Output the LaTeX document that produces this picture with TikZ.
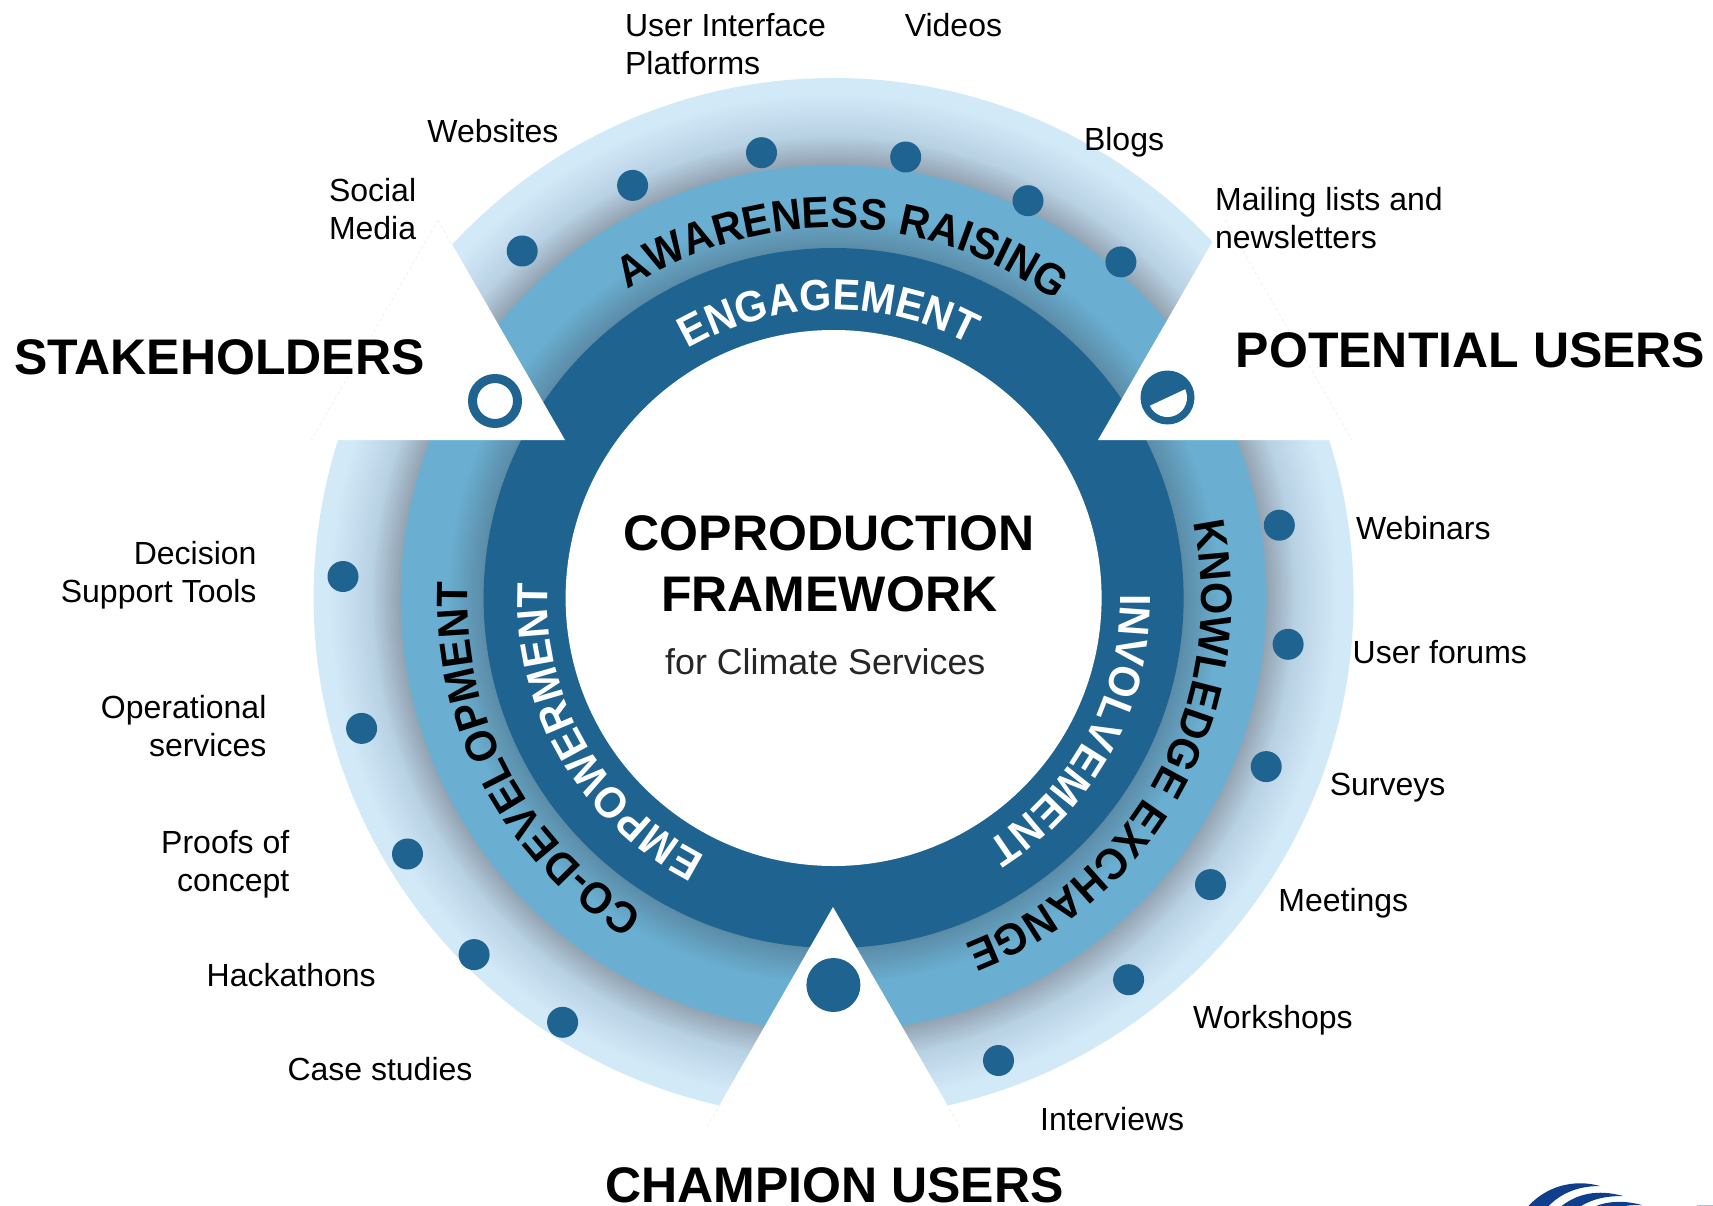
\documentclass[tikz,border=0pt]{standalone}
\usepackage{fontspec}
\setmainfont{Liberation Sans}
\newfontfamily\ringf{Liberation Sans}[FakeStretch=0.945]
\usetikzlibrary{decorations.text}
\definecolor{dk}{HTML}{1F6391}
\definecolor{midA}{HTML}{5C8DA8}
\definecolor{midB}{HTML}{6AAFD1}
\definecolor{outA}{HTML}{94A4B3}
\definecolor{outC}{HTML}{B8D1E3}
\definecolor{outB}{HTML}{D2E9F8}
\definecolor{logoblue}{HTML}{0F3F8C}
\newcommand\ringblack{\ringf\fontsize{44}{50}\selectfont\bfseries\color{black}}
\newcommand\ringwhite{\ringf\fontsize{43.5}{50}\selectfont\bfseries\color{white}}
\newcommand\ringtext[4]{\path[decorate,decoration={text along path,text align=center,text={|#4|#3}}] ({#1+70}:#2) arc ({#1+70}:{#1-70}:#2);}
\tikzset{
 x=1pt,y=1pt,
 lab/.style={inner sep=0pt,font=\fontsize{32}{38}\selectfont,text=black},
 labL/.style={lab,anchor=base west},
 headg/.style={inner sep=0pt,font=\fontsize{50}{56}\selectfont\bfseries,text=black},
 titleg/.style={inner sep=0pt,font=\fontsize{50}{56}\selectfont\bfseries,anchor=base,text=black},
 dot/.style={circle,fill=dk,inner sep=0pt,minimum size=31pt},
 tri/.style={fill=white},
 faint/.style={draw=black!5,line width=1pt,dash pattern=on 3pt off 3pt},
}
\begin{document}
\begin{tikzpicture}
\useasboundingbox (0,0) rectangle (1713,-1206);
\coordinate (C) at (833.6,-598);
\coordinate (T) at (833.6,-600);
% rings: concentric steps give the radial fades
\fill[outB] (C) circle (520);
\foreach \i in {0,...,21}{
  \pgfmathsetmacro\rr{505-2*\i}
  \pgfmathsetmacro\pp{100-100*\i/21}
  \fill[outB!\pp!outC] (C) circle (\rr);
}
\foreach \i in {1,...,14}{
  \pgfmathsetmacro\rr{463-2*\i}
  \pgfmathsetmacro\pp{100-100*\i/14}
  \fill[outC!\pp!outA] (C) circle (\rr);
}
\fill[midB] (C) circle (433);
\foreach \i in {0,...,18}{
  \pgfmathsetmacro\rr{388-2*\i}
  \pgfmathsetmacro\pp{100-100*\i/18}
  \fill[midB!\pp!midA] (C) circle (\rr);
}
\fill[dk] (C) circle (350);
\fill[white] (C) circle (268);
% triangles
\fill[tri] (311.5,-440) -- (565,-440) -- (438,-220) -- cycle;
\fill[tri] (1098,-440) -- (1352,-440) -- (1225,-220) -- cycle;
\fill[tri] (833,-907) -- (707,-1127) -- (960,-1127) -- cycle;
\draw[faint] (438,-220) -- (452,-245);
\draw[faint] (438,-220) -- (311.5,-440);
\draw[faint] (1225,-220) -- (1352,-440);
\draw[faint] (960,-1127) -- (946,-1103);
\draw[faint] (707,-1127) -- (721,-1103);
% icons
\node[circle,draw=dk,line width=9pt,fill=white,inner sep=0pt,minimum size=45pt] (iconA) at (495,-401) {};
\node[circle,fill=dk,inner sep=0pt,minimum size=54pt] (iconB) at (1167.5,-397.5) {};
\fill[white] (iconB.center) ++(25:19.5) arc (25:-155:19.5) -- cycle;
\node[circle,fill=dk,inner sep=0pt,minimum size=54pt] (iconC) at (833.4,-985) {};
% dots
\begin{scope}[yshift=-0.8pt]
\node[dot] (d1) at (522.2,-250.2) {};
\node[dot] (d2) at (632.6,-184.6) {};
\node[dot] (d3) at (761.5,-151.9) {};
\node[dot] (d4) at (905.7,-156.2) {};
\node[dot] (d5) at (1028.0,-199.9) {};
\node[dot] (d6) at (1120.9,-261.1) {};
\node[dot] (d7) at (1279.3,-524.4) {};
\node[dot] (d8) at (1288.1,-643.5) {};
\node[dot] (d9) at (1266.2,-765.8) {};
\node[dot] (d10) at (1210.5,-883.8) {};
\node[dot] (d11) at (1128.6,-978.9) {};
\node[dot] (d12) at (998.5,-1059.7) {};
\node[dot] (d13) at (343.0,-575.7) {};
\node[dot] (d14) at (361.6,-727.6) {};
\node[dot] (d15) at (407.5,-853.2) {};
\node[dot] (d16) at (474.1,-953.8) {};
\node[dot] (d17) at (562.6,-1021.5) {};
\end{scope}
% curved texts
\begin{scope}[shift={(T)}]
\ringtext{88.5}{372}{AWARENESS RAISING}{\ringblack}
\ringtext{91}{290}{ENGAGEMENT}{\ringwhite}
\ringtext{-28.5}{368}{KNOWLEDGE EXCHANGE}{\ringblack}
\ringtext{-28.5}{287}{INVOLVEMENT}{\ringwhite}
\ringtext{208}{366}{CO-DEVELOPMENT}{\ringblack}
\ringtext{210}{286}{EMPOWERMENT}{\ringwhite}
\end{scope}
% labels
\node[lab,anchor=west,align=left] (l1) at (624.9,-44.2) {User Interface\\Platforms};
\node[labL] (l2) at (904.6,-36.6) {Videos};
\node[labL] (l3) at (427.2,-142.6) {Websites};
\node[labL] (l4) at (1083.8,-150.3) {Blogs};
\node[lab,anchor=west,align=left] (l5) at (328.8,-208.9) {Social\\Media};
\node[lab,anchor=west,align=left] (l6) at (1214.9,-218) {Mailing lists and\\newsletters};
\node[labL] (l7) at (1355.8,-539.7) {Webinars};
\node[labL] (l8) at (1352.5,-663.1) {User forums};
\node[labL] (l9) at (1329.6,-795.3) {Surveys};
\node[labL] (l10) at (1278.2,-911.1) {Meetings};
\node[labL] (l11) at (1193,-1028.1) {Workshops};
\node[labL] (l12) at (1040,-1130.7) {Interviews};
\node[lab,anchor=east,align=right] (l13) at (256.7,-575.2) {Decision\\Support Tools};
\node[lab,anchor=east,align=right] (l14) at (266.6,-726.4) {Operational\\services};
\node[lab,anchor=east,align=right] (l15) at (289.5,-864.6) {Proofs of\\concept};
\node[labL] (l16) at (206.5,-986.5) {Hackathons};
\node[labL] (l17) at (287.3,-1080.5) {Case studies};
% headings
\node[headg,anchor=base west] (h1) at (14.2,-374.8) {STAKEHOLDERS};
\node[headg,anchor=base west] (h2) at (1235.6,-367.2) {POTENTIAL USERS};
\node[headg,anchor=base] (h3) at (834.6,-1202.5) {CHAMPION USERS};
% title
\node[titleg] (t1) at (829.2,-550.6) {COPRODUCTION};
\node[titleg] (t2) at (829.2,-611.8) {FRAMEWORK};
\node[inner sep=0pt,anchor=base,font=\fontsize{35.8}{40}\selectfont,text=black!85] (t3) at (825.3,-674) {for Climate Services};
% logo fragment
\begin{scope}
\clip (0,0) rectangle (1713,-1206);
\fill[logoblue] (1600,-1186) .. controls (1575,-1179) and (1545,-1185) .. (1525,-1210) -- (1545,-1210) .. controls (1560,-1192) and (1580,-1186) .. (1600,-1186) -- cycle;
\fill[logoblue] (1623,-1196) .. controls (1598,-1189) and (1575,-1193) .. (1557,-1210) -- (1575,-1210) .. controls (1590,-1199) and (1605,-1196) .. (1623,-1196) -- cycle;
\fill[logoblue] (1642,-1205) .. controls (1620,-1199) and (1600,-1202) .. (1589,-1210) -- (1608,-1210) .. controls (1618,-1206) and (1630,-1205) .. (1642,-1205) -- cycle;
\fill[midB!70!white] (1697,-1205) rectangle (1713,-1206);
\end{scope}
\end{tikzpicture}
\end{document}
